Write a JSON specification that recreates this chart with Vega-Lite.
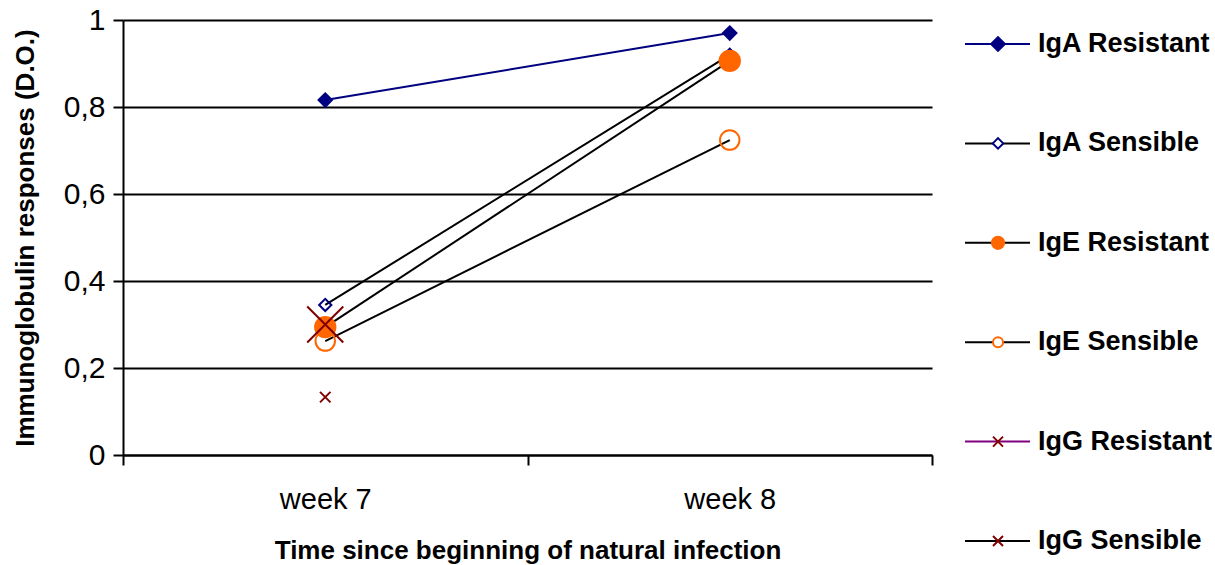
{
  "$schema": "https://vega.github.io/schema/vega-lite/v6.json",
  "autosize": {"type": "none"},
  "padding": {"left": 123, "top": 20, "right": 283, "bottom": 110},
  "width": 809,
  "height": 435,
  "background": "white",
  "config": {"view": {"stroke": null}, "font": "Liberation Sans"},
  "data": {"values": [
    {"series": "IgA Resistant", "week": "week 7", "value": 0.816},
    {"series": "IgA Resistant", "week": "week 8", "value": 0.970},
    {"series": "IgA Sensible", "week": "week 7", "value": 0.345},
    {"series": "IgA Sensible", "week": "week 8", "value": 0.920},
    {"series": "IgE Resistant", "week": "week 7", "value": 0.294},
    {"series": "IgE Resistant", "week": "week 8", "value": 0.906},
    {"series": "IgE Sensible", "week": "week 7", "value": 0.262},
    {"series": "IgE Sensible", "week": "week 8", "value": 0.724},
    {"series": "IgG Resistant", "week": "week 7", "value": 0.300},
    {"series": "IgG Sensible", "week": "week 7", "value": 0.133}
  ]},
  "resolve": {"scale": {"x": "independent", "y": "independent", "color": "independent", "stroke": "independent", "fill": "independent", "shape": "independent", "size": "independent"}},
  "layer": [
    {
      "encoding": {
        "x": {
          "field": "week", "type": "nominal",
          "scale": {"type": "band", "paddingInner": 0, "paddingOuter": 0},
          "axis": {
            "title": "Time since beginning of natural infection",
            "labelAngle": 0, "tickBand": "extent", "grid": false,
            "domainColor": "black", "domainWidth": 2, "tickColor": "black", "tickWidth": 2, "tickSize": 10,
            "labelFontSize": 29, "labelColor": "black", "labelPadding": 20, "labelFont": "Liberation Sans",
            "titleFontSize": 26, "titleFontWeight": "bold", "titleColor": "black", "titlePadding": 23
          }
        },
        "y": {
          "field": "value", "type": "quantitative",
          "scale": {"domain": [0, 1], "nice": false},
          "axis": {
            "title": "Immunoglobulin responses (D.O.)",
            "values": [0, 0.2, 0.4, 0.6, 0.8, 1],
            "labelExpr": "replace(format(datum.value, '.1~f'), '.', ',')",
            "grid": true, "gridColor": "black", "gridWidth": 2,
            "domainColor": "black", "domainWidth": 2, "tickColor": "black", "tickWidth": 2, "tickSize": 10,
            "labelFontSize": 30, "labelColor": "black", "labelPadding": 8,
            "titleFontSize": 26, "titleFontWeight": "bold", "titleColor": "black", "titlePadding": 25
          }
        }
      },
      "layer": [
        {
          "mark": {"type": "line", "strokeWidth": 2},
          "encoding": {
            "color": {
              "field": "series", "type": "nominal", "legend": null,
              "scale": {
                "domain": ["IgA Resistant", "IgA Sensible", "IgE Resistant", "IgE Sensible", "IgG Resistant", "IgG Sensible"],
                "range": ["#000080", "black", "black", "black", "#800080", "black"]
              }
            }
          }
        },
        {
          "mark": {"type": "point", "strokeWidth": 2, "opacity": 1},
          "encoding": {
            "shape": {
              "field": "series", "type": "nominal", "legend": null,
              "scale": {
                "domain": ["IgA Resistant", "IgA Sensible", "IgE Resistant", "IgE Sensible", "IgG Resistant", "IgG Sensible"],
                "range": ["diamond", "diamond", "circle", "circle", "M-1,-1L1,1M-1,1L1,-1", "M-1,-1L1,1M-1,1L1,-1"]
              }
            },
            "fill": {
              "field": "series", "type": "nominal", "legend": null,
              "scale": {
                "domain": ["IgA Resistant", "IgA Sensible", "IgE Resistant", "IgE Sensible", "IgG Resistant", "IgG Sensible"],
                "range": ["#000080", "transparent", "#FF6600", "transparent", "transparent", "transparent"]
              }
            },
            "stroke": {
              "field": "series", "type": "nominal", "legend": null,
              "scale": {
                "domain": ["IgA Resistant", "IgA Sensible", "IgE Resistant", "IgE Sensible", "IgG Resistant", "IgG Sensible"],
                "range": ["#000080", "#000080", "#FF6600", "#FF6600", "#800000", "#800000"]
              }
            },
            "size": {
              "field": "series", "type": "nominal", "legend": null,
              "scale": {
                "type": "ordinal",
                "domain": ["IgA Resistant", "IgA Sensible", "IgE Resistant", "IgE Sensible", "IgG Resistant", "IgG Sensible"],
                "range": [180, 150, 415, 380, 1300, 110]
              }
            }
          }
        }
      ]
    },
    {
      "transform": [{"filter": "datum.week === 'week 7'"}],
      "encoding": {
        "y": {
          "field": "series", "type": "nominal", "axis": null,
          "scale": {"type": "point", "padding": 0, "range": [24, 521],
            "domain": ["IgA Resistant", "IgA Sensible", "IgE Resistant", "IgE Sensible", "IgG Resistant", "IgG Sensible"]}
        }
      },
      "layer": [
        {
          "mark": {"type": "rule", "strokeWidth": 2, "clip": false},
          "encoding": {
            "x": {"datum": 842, "type": "quantitative", "scale": {"domain": [0, 809], "nice": false, "zero": false}, "axis": null},
            "x2": {"datum": 907},
            "color": {
              "field": "series", "type": "nominal", "legend": null,
              "scale": {
                "domain": ["IgA Resistant", "IgA Sensible", "IgE Resistant", "IgE Sensible", "IgG Resistant", "IgG Sensible"],
                "range": ["#000080", "black", "black", "black", "#800080", "black"]
              }
            }
          }
        },
        {
          "mark": {"type": "point", "strokeWidth": 2, "opacity": 1, "clip": false},
          "encoding": {
            "x": {"datum": 875, "type": "quantitative"},
            "shape": {
              "field": "series", "type": "nominal", "legend": null,
              "scale": {
                "domain": ["IgA Resistant", "IgA Sensible", "IgE Resistant", "IgE Sensible", "IgG Resistant", "IgG Sensible"],
                "range": ["diamond", "diamond", "circle", "circle", "M-1,-1L1,1M-1,1L1,-1", "M-1,-1L1,1M-1,1L1,-1"]
              }
            },
            "fill": {
              "field": "series", "type": "nominal", "legend": null,
              "scale": {
                "domain": ["IgA Resistant", "IgA Sensible", "IgE Resistant", "IgE Sensible", "IgG Resistant", "IgG Sensible"],
                "range": ["#000080", "white", "#FF6600", "white", "transparent", "transparent"]
              }
            },
            "stroke": {
              "field": "series", "type": "nominal", "legend": null,
              "scale": {
                "domain": ["IgA Resistant", "IgA Sensible", "IgE Resistant", "IgE Sensible", "IgG Resistant", "IgG Sensible"],
                "range": ["#000080", "#000080", "#FF6600", "#FF6600", "#800000", "#800000"]
              }
            },
            "size": {
              "field": "series", "type": "nominal", "legend": null,
              "scale": {
                "type": "ordinal",
                "domain": ["IgA Resistant", "IgA Sensible", "IgE Resistant", "IgE Sensible", "IgG Resistant", "IgG Sensible"],
                "range": [190, 110, 150, 100, 100, 100]
              }
            }
          }
        },
        {
          "mark": {"type": "text", "align": "left", "baseline": "middle", "fontSize": 27, "fontWeight": "bold", "font": "Liberation Sans", "color": "black", "clip": false},
          "encoding": {
            "x": {"datum": 915, "type": "quantitative"},
            "text": {"field": "series", "type": "nominal"}
          }
        }
      ]
    }
  ]
}
